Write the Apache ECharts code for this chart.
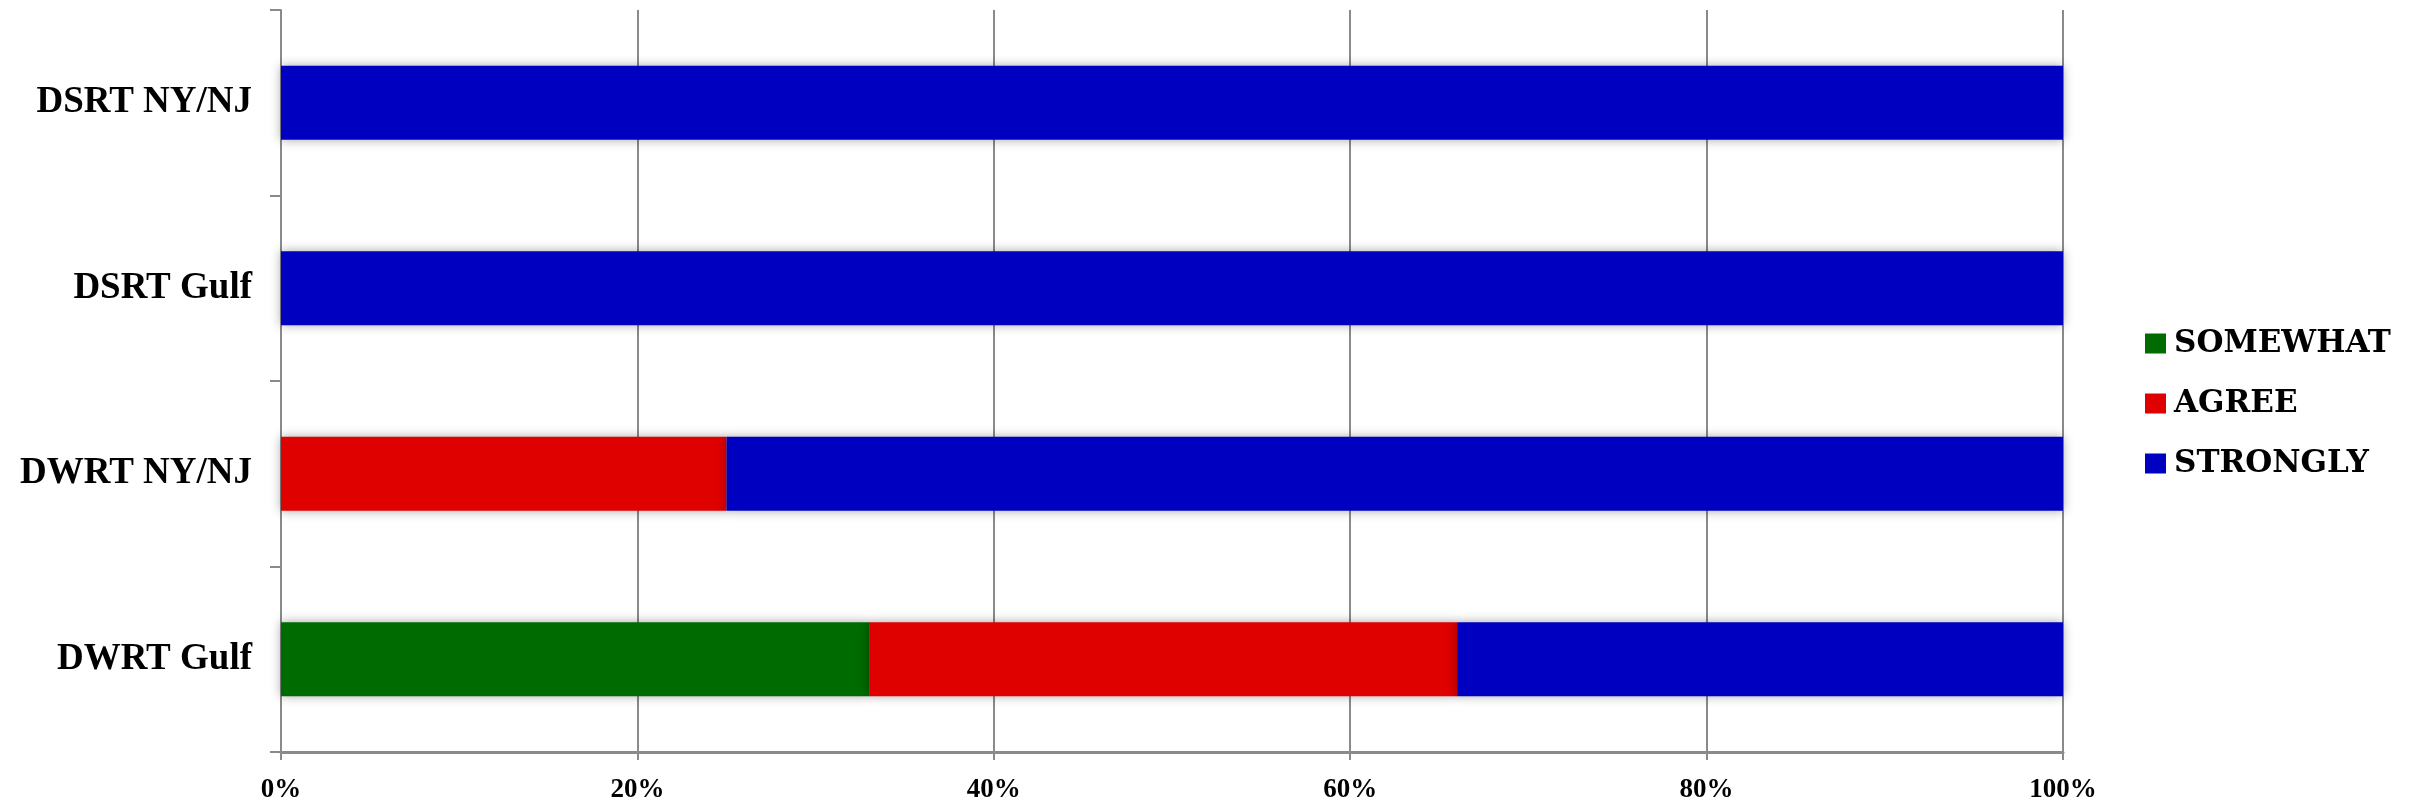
<!DOCTYPE html>
<html>
<head>
<meta charset="utf-8">
<script src="https://cdn.jsdelivr.net/npm/echarts@6/dist/echarts.min.js"></script>
<style>html,body{margin:0;padding:0;background:#fff}#c{width:2412px;height:804px}</style>
</head>
<body>
<div id="c"></div>
<script>
var categories = ['DWRT Gulf', 'DWRT NY/NJ', 'DSRT Gulf', 'DSRT NY/NJ'];
var somewhat = [33, 0, 0, 0];
var agree = [33, 25, 0, 0];
var strongly = [34, 75, 100, 100];
var xTicks = [0, 20, 40, 60, 80, 100];

var shadow = {shadowColor: 'rgba(0,0,0,0.35)', shadowBlur: 10, shadowOffsetY: 0};
function mk(name, data, color) {
  return {
    name: name, type: 'bar', stack: 'total', data: data, barWidth: '40%',
    itemStyle: Object.assign({color: color}, shadow)
  };
}
var chart = echarts.init(document.getElementById('c'));
chart.setOption({
  animation: false,
  grid: {left: 281, right: 349, top: 10, bottom: 50, containLabel: false},
  legend: {
    orient: 'vertical', left: 2145, top: 328, padding: 0,
    itemWidth: 21, itemHeight: 20, itemGap: 29,
    icon: 'rect',
    textStyle: {fontFamily: 'DejaVu Serif', fontWeight: 'bold', fontSize: 31, color: '#000', padding: [0, 0, 0, 3]},
    data: ['SOMEWHAT', 'AGREE', 'STRONGLY']
  },
  xAxis: {
    type: 'value', min: xTicks[0], max: xTicks[xTicks.length - 1], interval: 20,
    axisLine: {show: true, lineStyle: {color: '#8a8a8a', width: 3}},
    axisTick: {show: true, length: 8, lineStyle: {color: '#8a8a8a', width: 2}},
    splitLine: {show: true, lineStyle: {color: '#8a8a8a', width: 2}},
    axisLabel: {formatter: '{value}%', fontFamily: 'Liberation Serif', fontWeight: 'bold', fontSize: 27, color: '#000', margin: 25}
  },
  yAxis: {
    type: 'category', data: categories,
    axisLine: {show: true, lineStyle: {color: '#8a8a8a', width: 2}},
    axisTick: {show: true, length: 11, lineStyle: {color: '#8a8a8a', width: 2}},
    axisLabel: {fontFamily: 'Liberation Serif', fontWeight: 'bold', fontSize: 37, color: '#000', margin: 29}
  },
  series: [
    mk('SOMEWHAT', somewhat, '#006B00'),
    mk('AGREE', agree, '#DF0000'),
    mk('STRONGLY', strongly, '#0000C0')
  ]
});
</script>
</body>
</html>
